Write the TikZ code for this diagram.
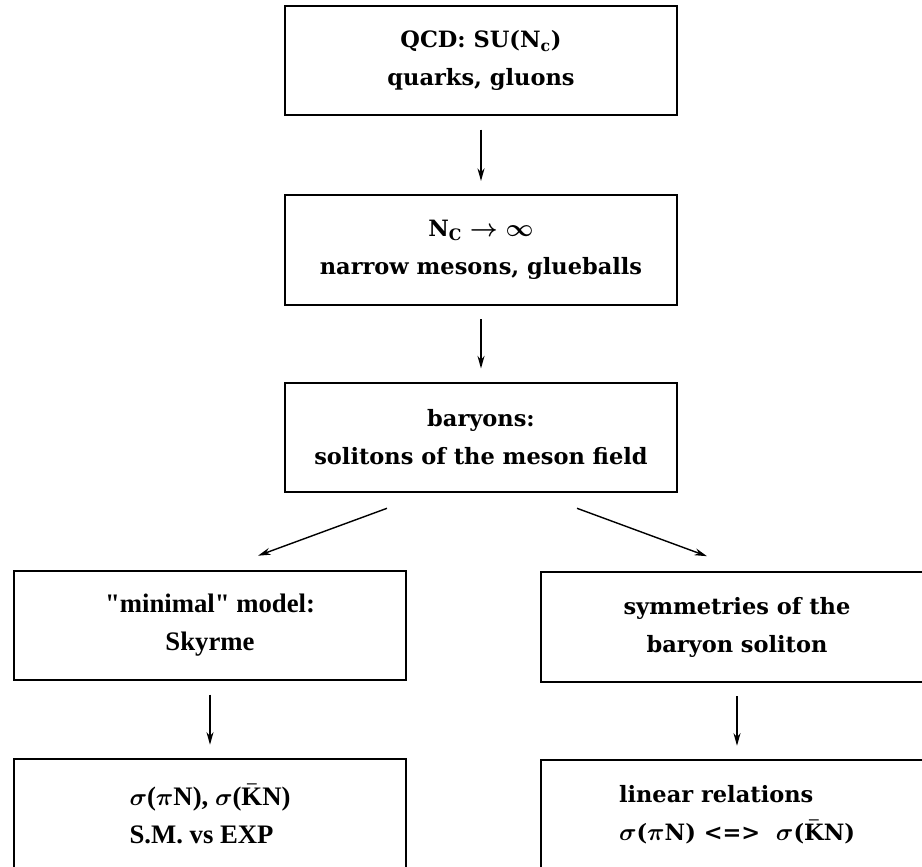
\documentclass[tikz,border=0pt]{standalone}
\usepackage{fontspec}
\setmainfont{DejaVu Serif}
\newfontfamily\schfont{Liberation Serif}
\usetikzlibrary{arrows.meta,positioning,calc}

\begin{document}
\begin{tikzpicture}[x=0.025cm,y=-0.025cm,
  box/.style={draw,line width=1.4pt,minimum width=9.8cm,minimum height=2.74cm,
    align=center,inner sep=0pt,font=\fontsize{16}{27}\selectfont\bfseries\boldmath},
  sch/.style={font=\schfont\fontsize{19}{27}\selectfont\bfseries\boldmath},
  flow/.style={line width=1pt,shorten <=0.33cm,shorten >=0.33cm,
    -{Stealth[length=9pt,width=5pt]}}]
\useasboundingbox (0,0) rectangle (922,867);
% chain of boxes
\node[box] (qcd) at (481,60.5) {QCD: SU(N\textsubscript{c})\\quarks, gluons};
\node[box] (largen) at (481,250) {N\textsubscript{C} $\rightarrow$ $\infty$\\narrow mesons, glueballs};
\node[box] (baryon) at (481,437.5) {baryons:\\solitons of the meson field};
\node[box,sch] (skyrme) at (210,625.5) {"minimal" model:\\Skyrme};
\node[box] (symm) at (737,627) {symmetries of the\\baryon soliton};
\node[box,sch,align=left] (smexp) at (210,813.75)
  {$\sigma$($\pi$N), $\sigma$($\bar{\hbox{K}}$N)\\S.M. vs EXP};
\node[box,align=left] (linrel) at (737,814.75)
  {linear relations\\$\sigma$($\pi$N) <=>~~$\sigma$($\bar{\hbox{K}}$N)};
\draw[flow] (qcd) -- (largen);
\draw[flow] (largen) -- (baryon);
\draw[flow,shorten <=0pt,shorten >=0pt] ($(baryon.south)+(-94,15)$) -- ($(skyrme.north)+(48,-14)$);
\draw[flow,shorten <=0pt,shorten >=0pt] ($(baryon.south)+(96,15)$) -- ($(symm.north)+(-30,-15)$);
\draw[flow] (skyrme) -- (smexp);
\draw[flow] (symm) -- (linrel);
\end{tikzpicture}
\end{document}
